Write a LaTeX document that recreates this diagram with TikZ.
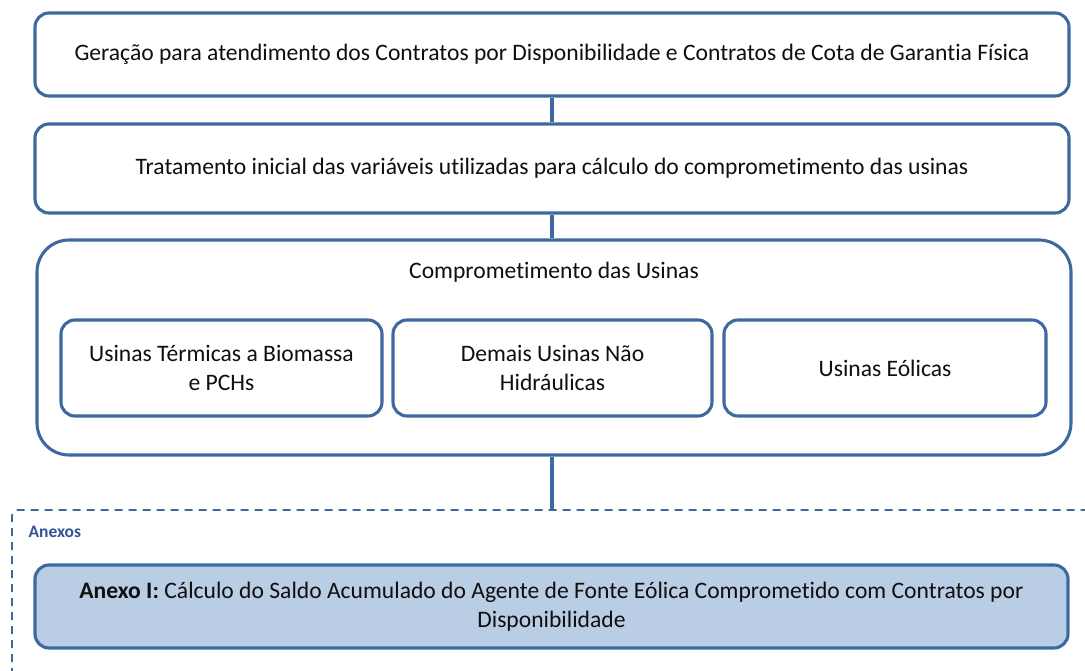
\documentclass[tikz,border=0pt]{standalone}
\usepackage{fontspec}
\setmainfont{Carlito}[Ligatures=NoCommon]
\definecolor{edge}{RGB}{62,104,160}
\definecolor{annfill}{RGB}{185,205,229}
\definecolor{txt}{RGB}{15,15,15}
\definecolor{anx}{RGB}{47,85,151}
\begin{document}
\begin{tikzpicture}[x=1pt,y=-1pt,
  box/.style={draw=edge,line width=3.1pt,rounded corners=14pt,fill=white,
    text=txt,font=\fontsize{23.6}{28.5}\selectfont,align=center,inner sep=0pt},
  big/.style={draw=edge,line width=3.1pt,rounded corners=32pt,fill=white},
  conn/.style={draw=edge,line width=3.1pt}]
\useasboundingbox (0,0) rectangle (1085,671);
\begin{scope}
\clip (0,0) rectangle (1085,671);
\draw[edge,line width=1.8pt,dash pattern=on 8pt off 6pt,rounded corners=6pt] (12,690) -- (12,510) -- (1110,510);
\end{scope}
\coordinate (dtop) at (552,510);
\node[box,minimum width=1034pt,minimum height=83pt] (b1) at (552,54.5) {Geração para atendimento dos Contratos por Disponibilidade e Contratos de Cota de Garantia Física};
\node[box,minimum width=1034pt,minimum height=89pt] (b2) at (552,168.5) {Tratamento inicial das variáveis utilizadas para cálculo do comprometimento das usinas};
\node[big,minimum width=1034pt,minimum height=215pt] (b3) at (554,347.5) {};
\node[text=txt,font=\fontsize{23.6}{28.5}\selectfont] (t3) at (554,272) {Comprometimento das Usinas};
\node[box,minimum width=321pt,minimum height=96pt] (s1) at (221.5,368) {Usinas Térmicas a Biomassa\\e PCHs};
\node[box,minimum width=319pt,minimum height=96pt] (s2) at (552.5,368) {Demais Usinas Não\\Hidráulicas};
\node[box,minimum width=322pt,minimum height=96pt] (s3) at (885,368) {Usinas Eólicas};
\draw[conn] (b1.south) -- (b2.north);
\draw[conn] (b2.south) -- (b2.south |- b3.north);
\draw[conn] (b2.south |- b3.south) -- (dtop);
\node[anchor=west,text=anx,font=\fontsize{17.5}{20}\selectfont\bfseries] (lab) at (25,532) {Anexos};
\node[box,fill=annfill,minimum width=1033pt,minimum height=83pt] (a1) at (551.5,606.5) {\textbf{Anexo I:} Cálculo do Saldo Acumulado do Agente de Fonte Eólica Comprometido com Contratos por\\Disponibilidade};
\end{tikzpicture}
\end{document}
